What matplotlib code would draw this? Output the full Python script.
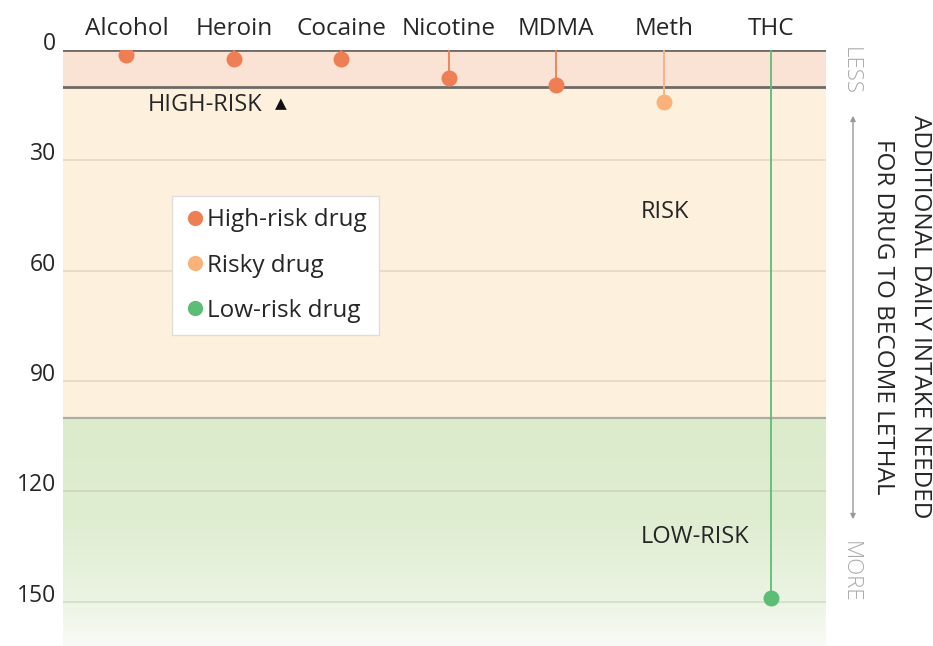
import matplotlib
matplotlib.use("Agg")
import matplotlib.pyplot as plt
import numpy as np
from matplotlib.lines import Line2D
from matplotlib.colors import LinearSegmentedColormap
from matplotlib.patches import FancyArrowPatch

plt.rcParams['font.family'] = ['Open Sans', 'DejaVu Sans']

drugs = ["Alcohol", "Heroin", "Cocaine", "Nicotine", "MDMA", "Meth", "THC"]
values = [1.4, 2.5, 2.5, 7.6, 9.5, 14, 149]
groups = ["High-risk drug", "High-risk drug", "High-risk drug", "High-risk drug",
          "High-risk drug", "Risky drug", "Low-risk drug"]
yticks = [0, 30, 60, 90, 120, 150]

colors = {"High-risk drug": "#ee7f55", "Risky drug": "#f9b27a", "Low-risk drug": "#5cbd76"}
TXT = "#262626"

W, H = 933, 646
fig = plt.figure(figsize=(W / 100, H / 100), dpi=100)
left_px, right_px, top_px = 63, 826, 50
ax = fig.add_axes([left_px / W, 0, (right_px - left_px) / W, (H - top_px) / H])

# background zones
ax.axhspan(0, 10, color="#fae3d5", zorder=0, lw=0)
ax.axhspan(10, 100, color="#fdf1dd", zorder=0, lw=0)
cmap = LinearSegmentedColormap.from_list("g", [(0, "#dcebcc"), (0.45, "#dfedd1"),
                                               (0.8, "#ebf4e3"), (1, "#f9fbf6")])
grad = np.linspace(0, 1, 256).reshape(-1, 1)
ax.imshow(grad, cmap=cmap, extent=(-0.59, 6.51, 162, 100), aspect="auto", zorder=0,
          origin="upper")
ax.set_xlim(-0.59, 6.51)
ax.set_ylim(162, 0)

# grid lines
for t in [30, 60, 90, 120, 150]:
    ax.axhline(t, color="#9a9a8a", alpha=0.28, lw=1.2, zorder=1)
ax.axhline(0, color="#6e6a66", lw=2.0, zorder=2)
ax.axhline(10, color="#6e6a66", lw=2.0, zorder=2)
ax.axhline(100, color="#a9aea2", lw=1.6, zorder=2)

# stems and dots
x = np.arange(len(drugs))
for xi, v, g in zip(x, values, groups):
    ax.plot([xi, xi], [0, v], color=colors[g], lw=1.3, zorder=3, solid_capstyle="butt")
    ax.plot(xi, v, "o", color=colors[g], markersize=11.5, markeredgewidth=0, zorder=4)

# category labels on top
for xi, d in zip(x, drugs):
    ax.text(xi, -5.7, d, ha="center", va="center", fontsize=17.5, color=TXT, clip_on=False)

# y ticks
ax.set_yticks(yticks)
ax.set_yticklabels([str(t) for t in yticks], fontsize=16.5, color=TXT, va="baseline")
ax.tick_params(axis="y", length=0, pad=5)
ax.set_xticks([])
for s in ax.spines.values():
    s.set_visible(False)

# zone labels
ax.text(0.20, 15.0, "HIGH-RISK", ha="left", va="center", fontsize=17, color=TXT)
ax.text(1.38, 14.6, "▲", ha="left", va="center", fontsize=11, color="#111111",
        family=["DejaVu Sans"])
ax.text(5.01, 44.0, "RISK", ha="center", va="center", fontsize=17, color=TXT)
ax.text(5.29, 132.3, "LOW-RISK", ha="center", va="center", fontsize=17, color=TXT)

# legend
handles = [Line2D([], [], marker="o", ls="", color=colors[g], markersize=11, markeredgewidth=0)
           for g in ["High-risk drug", "Risky drug", "Low-risk drug"]]
leg = ax.legend(handles, ["High-risk drug", "Risky drug", "Low-risk drug"],
                loc="upper left",
                bbox_to_anchor=((172 - left_px) / (right_px - left_px), 1 - (196 - top_px) / (H - top_px)),
                fontsize=17.5, frameon=True, fancybox=False, handletextpad=0.05, handlelength=0.9,
                labelspacing=0.88, borderpad=0.5, borderaxespad=0)
leg.get_frame().set_edgecolor("#dddddd")
leg.get_frame().set_facecolor("white")
leg.get_frame().set_linewidth(1.0)
leg.get_frame().set_alpha(1)
for t in leg.get_texts():
    t.set_color(TXT)

# right side annotations
def fx(px):
    return px / W

def fy(py):
    return 1 - py / H

fig.text(fx(850), fy(71), "LESS", rotation=-90, ha="center", va="center", fontsize=16,
         color="#aaaaaa", weight="light")
fig.text(fx(850), fy(572), "MORE", rotation=-90, ha="center", va="center", fontsize=16,
         color="#aaaaaa", weight="light")
fig.add_artist(FancyArrowPatch((fx(853), fy(113)), (fx(853), fy(522)),
                               transform=fig.transFigure,
                               arrowstyle="<|-|>,head_length=3,head_width=1.5",
                               color="#999999", lw=1.0))
fig.text(fx(920), fy(317), "ADDITIONAL DAILY INTAKE NEEDED", rotation=-90,
         ha="center", va="center", fontsize=17.5, color=TXT)
fig.text(fx(883), fy(317), "FOR DRUG TO BECOME LETHAL", rotation=-90,
         ha="center", va="center", fontsize=17.5, color=TXT)

fig.savefig("out.png", dpi=100, facecolor="white")
